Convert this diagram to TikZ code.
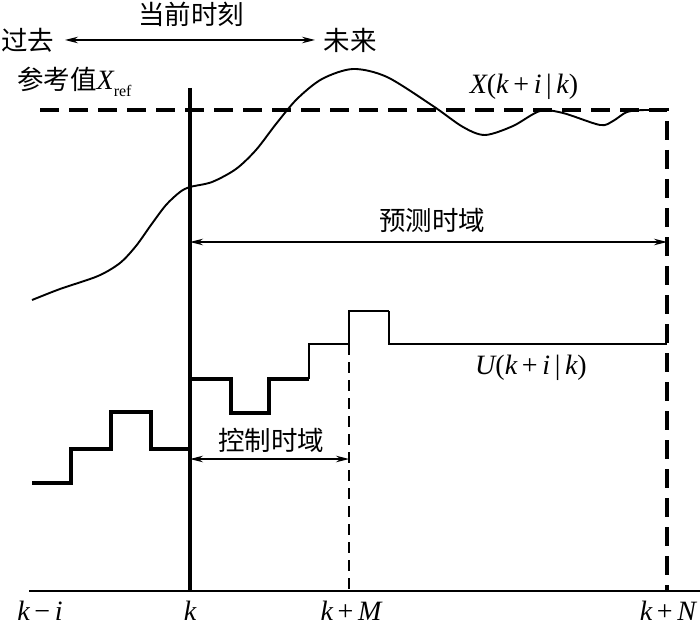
\documentclass[tikz,border=0pt]{standalone}
\usepackage{fontspec}
\setmainfont{Liberation Serif}
\newfontfamily\cjk{Noto Sans CJK SC}
\usetikzlibrary{arrows.meta}
\begin{document}
\begin{tikzpicture}[x=1pt,y=-1pt,
  cjklabel/.style={font=\cjk\fontsize{26.5}{28}\selectfont, inner sep=0pt},
  mlabel/.style={font=\fontsize{28}{30}\selectfont, inner sep=0pt},
  darr/.style={{Stealth[length=13pt,width=6.5pt]}-{Stealth[length=13pt,width=6.5pt]}, line width=1.2pt},
  axisline/.style={line width=2.3pt},
  kline/.style={line width=3.3pt},
  refdash/.style={line width=3.3pt, dash pattern=on 19pt off 10pt},
  mdash/.style={line width=1.6pt, dash pattern=on 11pt off 7pt},
  curveline/.style={line width=1.9pt},
  stepthick/.style={line width=3.3pt},
  stepthin/.style={line width=1.3pt},
  stepmid/.style={line width=2.6pt}]
\useasboundingbox (0,0) rectangle (700,628);

% key coordinates
\coordinate (axL) at (29,591);
\coordinate (axR) at (700,591);
\coordinate (kTop) at (190,88);
\coordinate (kBot) at (190,591);
\coordinate (refL) at (40,110);
\coordinate (refR) at (667,110);
\coordinate (nBot) at (667,590);
\coordinate (mTop) at (349,344);
\coordinate (mBot) at (349,591);

% axes
\draw[axisline] (axL) -- (axR);
\draw[kline] (kTop) -- (kBot);
\draw[refdash] (refL) -- (refR) -- (nBot);
\draw[mdash] (mTop) -- (mBot);

% predicted output curve
\draw[curveline] plot[smooth, tension=0.5] coordinates {
 (32,300) (60,289) (98,276) (120,263) (136,246) (151,225) (166,205) (180,192) (190,187)
 (212,182) (236,169) (256,150) (276,124) (297,99) (322,79) (353,69) (387,77) (433,106)
 (463,127) (485,135) (513,126) (540,111) (563,113) (600,125) (613,121)
 (627,112) (645,110) (667,111)};

% control input steps
\draw[stepthick] (32,483) -- (71,483) -- (71,449) -- (111,449) -- (111,412)
  -- (151,412) -- (151,449) -- (190,449);
\draw[stepthick] (190,379) -- (231,379) -- (231,413) -- (269,413) -- (269,379) -- (309,379);
\draw[stepthin] (309,379) -- (309,344) -- (349,344);
\draw[stepmid] (349,344) -- (349,311) -- (389,311);
\draw[stepthin] (389,311) -- (389,344) -- (667,344);

% top labels
\node[cjklabel] (now) at (191,14) {当前时刻};
\node[cjklabel] (past) at (28,40) {过去};
\node[cjklabel] (future) at (350,40) {未来};
\coordinate (pa) at (65,40);
\coordinate (fa) at (315,40);
\draw[darr] (pa) -- (fa);

\node[cjklabel, anchor=west] (ref) at (17,82) {参考值\fontsize{28}{30}\selectfont\rmfamily\itshape X\fontsize{16}{17}\selectfont\upshape\raisebox{-7pt}{ref}};
\node[mlabel] (xlab) at (524,87) {\itshape X\upshape(\itshape k\upshape\,+\,\itshape i\upshape\,|\,\itshape k\upshape)};
\node[mlabel] (ulab) at (531,368) {\itshape U\upshape(\itshape k\upshape\,+\,\itshape i\upshape\,|\,\itshape k\upshape)};

% prediction horizon
\node[cjklabel] (pred) at (432,220) {预测时域};
\coordinate (p1) at (190,242);
\coordinate (p2) at (667,242);
\draw[darr] (p1) -- (p2);

% control horizon
\node[cjklabel] (ctrl) at (271,440) {控制时域};
\coordinate (c1) at (190,459);
\coordinate (c2) at (349,459);
\draw[darr] (c1) -- (c2);

% bottom tick labels
\node[mlabel] (lki) at (40,611) {\itshape k\upshape\,−\,\itshape i};
\node[mlabel] (lk) at (190,611) {\itshape k};
\node[mlabel] (lkm) at (351,611) {\itshape k\upshape\,+\,\itshape M};
\node[mlabel] (lkn) at (668,611) {\itshape k\upshape\,+\,\itshape N};
\end{tikzpicture}
\end{document}
